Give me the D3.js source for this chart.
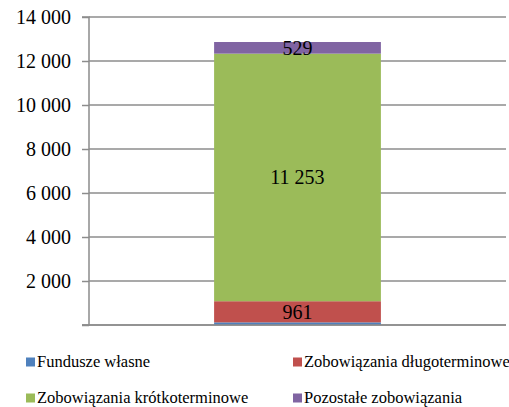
<!DOCTYPE html>
<html><head><meta charset="utf-8">
<script src="https://cdn.jsdelivr.net/npm/d3@7"></script>
<style>body{margin:0;background:#fff}svg{display:block}svg text{font-family:"Liberation Serif","Times New Roman",serif !important}</style>
</head><body><svg id="c" width="509" height="407"></svg>
<script>
const categories = ["Pasywa"];
const seriesNames = ["Fundusze własne","Zobowiązania długoterminowe","Zobowiązania krótkoterminowe","Pozostałe zobowiązania"];
const seriesColors = ["#4f81bd","#c0504d","#9bbb59","#8064a2"];
const values = [120, 961, 11253, 529];
const showLabel = [false, true, true, true];
const yTicks = [0,2000,4000,6000,8000,10000,12000,14000];
const yTickLabels = ["","2 000","4 000","6 000","8 000","10 000","12 000","14 000"];

const svg = d3.select("#c");
const L = 89, R = 506, T = 17, B = 325;
const y = d3.scaleLinear().domain([0,14000]).range([B,T]);
const x = d3.scaleBand().domain(categories).range([L,R]).paddingInner(0.5).paddingOuter(0.375);

// gridlines
svg.append("g").selectAll("line").data(yTicks).join("line")
  .attr("x1",L).attr("x2",R).attr("y1",d=>y(d)).attr("y2",d=>y(d))
  .attr("stroke","#8c8c8c").attr("stroke-width",1.5);

// stacked bar
let acc = 0;
const segs = values.map((v,i)=>{const s={i,v,y0:acc,y1:acc+v}; acc+=v; return s;});
const g = svg.append("g");
categories.forEach(c=>{
  g.selectAll("rect").data(segs).join("rect")
    .attr("x",x(c)).attr("width",x.bandwidth())
    .attr("y",d=>y(d.y1)).attr("height",d=>y(d.y0)-y(d.y1))
    .attr("fill",d=>seriesColors[d.i]);
  g.selectAll("text").data(segs.filter(d=>showLabel[d.i])).join("text")
    .attr("x",x(c)+x.bandwidth()/2).attr("y",d=>(y(d.y0)+y(d.y1))/2)
    .attr("dy","0.35em").attr("text-anchor","middle")
    .attr("font-size",20).attr("fill","#000")
    .text(d=>d3.format(",")(d.v).replace(/,/g," "));
});

// y axis
const ax = d3.axisLeft(y).tickValues(yTicks).tickSize(7).tickPadding(11).tickFormat((d,i)=>yTickLabels[i]);
const axg = svg.append("g").attr("transform",`translate(${L},0)`).call(ax)
  .attr("font-family","Liberation Serif").attr("font-size",20);
axg.select(".domain").attr("stroke","#8c8c8c").attr("stroke-width",1.5).attr("d",`M-7,${y(0)}H0V${y(14000)}H-7`);
axg.selectAll(".tick line").attr("stroke","#8c8c8c").attr("stroke-width",1.5);
axg.selectAll(".tick text").attr("fill","#000").attr("dy","0.34em");
// bottom axis line
svg.append("line").attr("x1",L-7).attr("x2",R).attr("y1",y(0)).attr("y2",y(0)).attr("stroke","#8c8c8c").attr("stroke-width",1.5);

// legend
const legPos = [[26,362],[293,362],[26,398],[293,398]];
const lg = svg.append("g");
seriesNames.forEach((n,i)=>{
  const [lx,ly] = legPos[i];
  lg.append("rect").attr("x",lx).attr("y",ly-4.5).attr("width",9).attr("height",9).attr("fill",seriesColors[i]);
  lg.append("text").attr("x",lx+11).attr("y",ly).attr("dy","0.33em").attr("font-size",16.5).attr("fill","#000").text(n);
});
</script></body></html>
